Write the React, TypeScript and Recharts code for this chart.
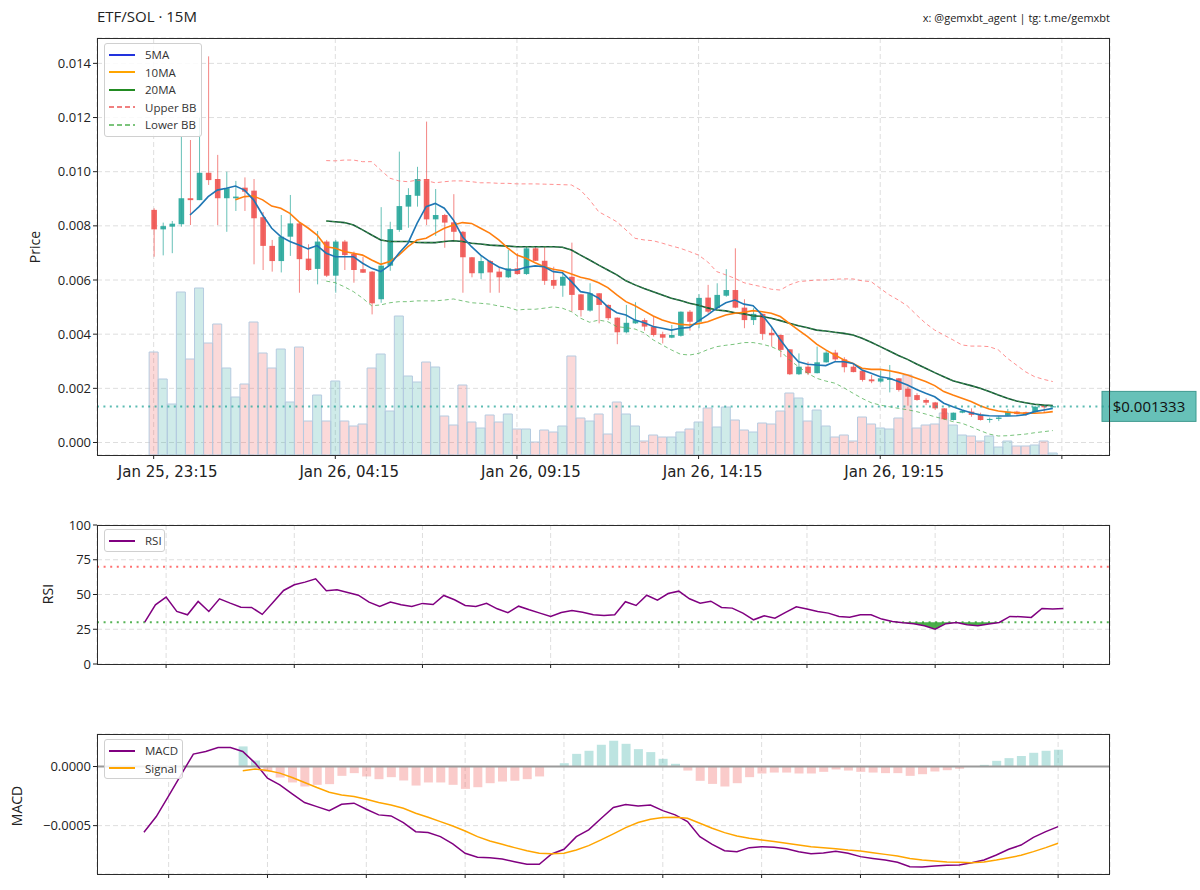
import React from 'react'
import { ComposedChart, Bar, Line, Area, XAxis, YAxis, CartesianGrid, ReferenceLine, Cell } from 'recharts'

const FONT = '"Open Sans", "Noto Sans", sans-serif'
const DATE_FONT = '"DejaVu Sans", "Open Sans", sans-serif'
const UP = '#26a69a'
const DOWN = '#ef5350'
const TEXT = '#222'

// 15m candles, index 0 = Jan 25 23:15
const opens = [
  0.00859, 0.00787, 0.00797, 0.00806, 0.00902, 0.00895, 0.00996, 0.00973, 0.00902, 0.00902,
  0.00941, 0.0093, 0.00832, 0.00726, 0.0067, 0.0076, 0.00809, 0.00679, 0.00641, 0.00742,
  0.00616, 0.00742, 0.00696, 0.0064, 0.00631, 0.00529, 0.00653, 0.00785, 0.00871, 0.00911,
  0.00973, 0.00824, 0.0084, 0.00813, 0.00778, 0.00684, 0.00625, 0.0067, 0.00631, 0.0061,
  0.00643, 0.00622, 0.00717, 0.00671, 0.006, 0.00579, 0.00612, 0.00547, 0.00487, 0.00551,
  0.00508, 0.00461, 0.00407, 0.0044, 0.00452, 0.00428, 0.004, 0.00387, 0.00394, 0.00483,
  0.00446, 0.00535, 0.00496, 0.00542, 0.00563, 0.00498, 0.00452, 0.00475, 0.00405, 0.00397,
  0.00344, 0.00252, 0.0028, 0.00256, 0.00296, 0.00332, 0.00307, 0.0028, 0.00265, 0.00233,
  0.00225, 0.00231, 0.00237, 0.00198, 0.00175, 0.00157, 0.00148, 0.00126, 0.00083, 0.0011,
  0.00114, 0.00102, 0.00083, 0.00087, 0.00099, 0.00114, 0.00112, 0.00112, 0.00136, 0.00132,
]
const highs = [
  0.00865, 0.00812, 0.00818, 0.01129, 0.01117, 0.012, 0.01426, 0.01062, 0.01, 0.00966,
  0.00979, 0.00973, 0.00851, 0.00748, 0.0084, 0.00914, 0.00814, 0.00732, 0.00781, 0.00748,
  0.00748, 0.00748, 0.00705, 0.00686, 0.00633, 0.00869, 0.00815, 0.01074, 0.00939, 0.01018,
  0.01185, 0.00936, 0.00844, 0.00917, 0.00781, 0.00685, 0.00692, 0.00674, 0.00649, 0.00711,
  0.00699, 0.00723, 0.00722, 0.00721, 0.00649, 0.00631, 0.00738, 0.00548, 0.00588, 0.00552,
  0.0051, 0.00462, 0.00508, 0.00518, 0.00459, 0.00465, 0.00409, 0.00434, 0.00484, 0.00489,
  0.00548, 0.00582, 0.00588, 0.0064, 0.00717, 0.00529, 0.00496, 0.00476, 0.00422, 0.00399,
  0.00345, 0.00329, 0.00298, 0.00354, 0.00339, 0.00342, 0.00315, 0.00292, 0.00266, 0.00249,
  0.00265, 0.00286, 0.00238, 0.00206, 0.00182, 0.00163, 0.0015, 0.00127, 0.00111, 0.0012,
  0.00126, 0.0011, 0.00092, 0.00098, 0.00124, 0.00117, 0.00114, 0.00136, 0.00138, 0.00135,
]
const lows = [
  0.00686, 0.00691, 0.00699, 0.00797, 0.00803, 0.00895, 0.00951, 0.00803, 0.00778, 0.00855,
  0.00855, 0.00658, 0.00637, 0.00631, 0.00628, 0.00689, 0.00553, 0.00634, 0.00584, 0.00611,
  0.00553, 0.00637, 0.0059, 0.00626, 0.00473, 0.00516, 0.00634, 0.00778, 0.00793, 0.00871,
  0.00803, 0.00763, 0.00719, 0.00742, 0.00553, 0.0061, 0.00603, 0.00553, 0.00553, 0.00607,
  0.0062, 0.00619, 0.0067, 0.00582, 0.00567, 0.00538, 0.00483, 0.00465, 0.00483, 0.0044,
  0.00452, 0.00363, 0.00403, 0.00438, 0.00413, 0.00391, 0.00366, 0.00385, 0.00391, 0.00413,
  0.00422, 0.00477, 0.00492, 0.00538, 0.00496, 0.00422, 0.00434, 0.00379, 0.00354, 0.00315,
  0.00249, 0.00249, 0.00249, 0.00255, 0.00295, 0.00298, 0.00259, 0.00259, 0.00225, 0.00219,
  0.00221, 0.00185, 0.00188, 0.00136, 0.00154, 0.00138, 0.0012, 0.00083, 0.00081, 0.00108,
  0.00095, 0.00081, 0.00073, 0.00079, 0.00099, 0.00103, 0.00098, 0.0011, 0.0011, 0.00131,
]
const closes = [
  0.00787, 0.00799, 0.00808, 0.00902, 0.00895, 0.00996, 0.00969, 0.00902, 0.00939, 0.00908,
  0.00926, 0.00828, 0.00726, 0.0067, 0.0076, 0.00809, 0.00677, 0.00637, 0.00742, 0.00616,
  0.00742, 0.00692, 0.00637, 0.00627, 0.00514, 0.00653, 0.00788, 0.00873, 0.00914, 0.00973,
  0.00824, 0.0084, 0.00812, 0.00778, 0.00684, 0.00625, 0.0067, 0.00628, 0.0061, 0.00643,
  0.00622, 0.00717, 0.00671, 0.00597, 0.00579, 0.00612, 0.00545, 0.00489, 0.00551, 0.00508,
  0.00459, 0.00407, 0.00442, 0.00452, 0.00428, 0.00397, 0.00387, 0.00397, 0.00483, 0.00446,
  0.00534, 0.00483, 0.00545, 0.00563, 0.00498, 0.00452, 0.00475, 0.00401, 0.00396, 0.00342,
  0.00252, 0.0028, 0.00256, 0.00296, 0.00332, 0.00307, 0.00278, 0.0026, 0.00231, 0.00226,
  0.00237, 0.00237, 0.00194, 0.00169, 0.00157, 0.00147, 0.00126, 0.00086, 0.0011, 0.00117,
  0.00102, 0.00083, 0.00087, 0.00092, 0.00114, 0.00105, 0.00105, 0.00132, 0.0013, 0.001333,
]
const volumes = [
  103, 76, 51, 163, 96, 167, 112, 131, 87, 58,
  71, 133, 102, 87, 106, 53, 108, 34, 60, 34,
  74, 34, 29, 31, 87, 101, 44, 139, 79, 73,
  93, 88, 39, 30, 70, 33, 27, 40, 33, 41,
  26, 26, 13, 25, 23, 29, 99, 37, 34, 41,
  21, 53, 41, 29, 14, 20, 18, 18, 23, 26,
  33, 47, 28, 48, 35, 25, 23, 32, 31, 44,
  62, 57, 34, 45, 29, 18, 20, 14, 38, 31,
  27, 26, 37, 80, 27, 30, 31, 42, 30, 20,
  19, 14, 19, 8, 14, 9, 9, 10, 14, 2,
]
const n = null
const ma5 = [
  n, n, n, n, 0.0084, 0.00871, 0.00908, 0.00932, 0.00939, 0.00947,
  0.00932, 0.00896, 0.0084, 0.00791, 0.0076, 0.00742, 0.00729, 0.00715, 0.00727, 0.00699,
  0.00686, 0.00686, 0.00686, 0.00662, 0.00643, 0.00631, 0.00655, 0.00699, 0.00736, 0.00809,
  0.00871, 0.00883, 0.00865, 0.00822, 0.0076, 0.00723, 0.00692, 0.00668, 0.00648, 0.00637,
  0.00637, 0.00647, 0.00652, 0.00649, 0.00631, 0.00627, 0.00594, 0.00557, 0.00551, 0.00533,
  0.00501, 0.00479, 0.00471, 0.00452, 0.00442, 0.00428, 0.00422, 0.00415, 0.00422, 0.00425,
  0.00449, 0.00471, 0.00496, 0.00516, 0.00526, 0.00511, 0.00505, 0.00471, 0.00428, 0.00379,
  0.00335, 0.00298, 0.00289, 0.00286, 0.00284, 0.00298, 0.00298, 0.00292, 0.00268, 0.00256,
  0.00243, 0.00237, 0.00225, 0.00212, 0.00196, 0.00182, 0.00169, 0.00145, 0.00132, 0.0012,
  0.0011, 0.00102, 0.00099, 0.00098, 0.00098, 0.00099, 0.00103, 0.00114, 0.0012, 0.00126,
]
const ma10 = [
  n, n, n, n, n, n, n, n, n, 0.00896,
  0.00908, 0.0091, 0.00896, 0.00873, 0.00865, 0.00846, 0.00815, 0.00792, 0.00766, 0.00723,
  0.00717, 0.00705, 0.00699, 0.00692, 0.00674, 0.00658, 0.00668, 0.00692, 0.00723, 0.00748,
  0.00754, 0.00773, 0.00791, 0.00803, 0.00812, 0.00809, 0.00791, 0.00773, 0.00748, 0.00718,
  0.00692, 0.0068, 0.00664, 0.00649, 0.0064, 0.00634, 0.00622, 0.0061, 0.00603, 0.0059,
  0.00572, 0.00545, 0.0052, 0.00505, 0.00486, 0.00467, 0.00452, 0.00442, 0.00436, 0.00434,
  0.00439, 0.00446, 0.00459, 0.00471, 0.00477, 0.00481, 0.00487, 0.00483, 0.00477, 0.00465,
  0.0044, 0.00415, 0.00391, 0.00363, 0.00342, 0.00323, 0.00305, 0.00292, 0.00274, 0.0027,
  0.0027, 0.00265, 0.00258, 0.00249, 0.00237, 0.00225, 0.0021, 0.00188, 0.00175, 0.00163,
  0.00151, 0.00136, 0.00124, 0.00116, 0.00112, 0.0011, 0.00108, 0.00108, 0.0011, 0.00114,
]
const ma20 = [
  n, n, n, n, n, n, n, n, n, n,
  n, n, n, n, n, n, n, n, n, 0.00818,
  0.00815, 0.00812, 0.00803, 0.00785, 0.00766, 0.00748, 0.00742, 0.00742, 0.00742, 0.00739,
  0.00738, 0.00738, 0.00742, 0.00745, 0.00742, 0.00736, 0.00733, 0.00729, 0.00727, 0.00725,
  0.00723, 0.00723, 0.00723, 0.00723, 0.00723, 0.00721, 0.00711, 0.00692, 0.00674, 0.00655,
  0.00637, 0.00619, 0.00597, 0.00582, 0.00569, 0.00557, 0.00545, 0.00533, 0.00524, 0.00514,
  0.00507, 0.00497, 0.00489, 0.00486, 0.00479, 0.00475, 0.00468, 0.00465, 0.00459, 0.0045,
  0.0044, 0.00431, 0.00424, 0.00415, 0.00412, 0.00407, 0.00403, 0.00397, 0.00385, 0.0037,
  0.00354, 0.00338, 0.00321, 0.00307, 0.0029, 0.00274, 0.00258, 0.00243, 0.00228, 0.00219,
  0.0021, 0.002, 0.00188, 0.00175, 0.00163, 0.00153, 0.00147, 0.00141, 0.00138, 0.00136,
]
const bbUpper = [
  n, n, n, n, n, n, n, n, n, n,
  n, n, n, n, n, n, n, n, n, 0.01041,
  0.0104, 0.01043, 0.01043, 0.01037, 0.01037, 0.01006, 0.00976, 0.00966, 0.00963, 0.00969,
  0.00967, 0.00959, 0.00963, 0.00966, 0.00966, 0.00963, 0.00959, 0.00959, 0.00957, 0.00957,
  0.00955, 0.00955, 0.00955, 0.00954, 0.00953, 0.00952, 0.00951, 0.00932, 0.00896, 0.00852,
  0.00834, 0.00815, 0.00785, 0.00754, 0.00748, 0.00745, 0.00736, 0.00726, 0.00717, 0.00705,
  0.00692, 0.00667, 0.00631, 0.00619, 0.00606, 0.0059, 0.00582, 0.00575, 0.00566, 0.00563,
  0.00582, 0.00594, 0.00597, 0.006, 0.006, 0.00603, 0.00604, 0.00604, 0.00597, 0.00594,
  0.00569, 0.00545, 0.00526, 0.00504, 0.00471, 0.0044, 0.00415, 0.00397, 0.00379, 0.0036,
  0.00356, 0.00356, 0.00354, 0.00342, 0.00311, 0.00286, 0.00261, 0.00243, 0.00233, 0.00225,
]
const bbLower = [
  n, n, n, n, n, n, n, n, n, n,
  n, n, n, n, n, n, n, n, n, 0.00596,
  0.0059, 0.00575, 0.00557, 0.00533, 0.00505, 0.00508, 0.00516, 0.0052, 0.0052, 0.00523,
  0.00523, 0.00523, 0.00526, 0.0053, 0.00523, 0.00516, 0.00514, 0.00511, 0.00504, 0.00499,
  0.00489, 0.00492, 0.00492, 0.00496, 0.00501, 0.00496, 0.00483, 0.00459, 0.00444, 0.00452,
  0.00446, 0.00428, 0.00424, 0.00419, 0.00405, 0.00379, 0.0036, 0.00342, 0.00326, 0.00323,
  0.00329, 0.00343, 0.00354, 0.00359, 0.00363, 0.00369, 0.00369, 0.00363, 0.00354, 0.00339,
  0.00305, 0.0028, 0.00256, 0.00237, 0.00227, 0.00219, 0.00202, 0.00182, 0.00163, 0.00147,
  0.00138, 0.00132, 0.00126, 0.00121, 0.00114, 0.00105, 0.00095, 0.00087, 0.00077, 0.00071,
  0.00058, 0.00044, 0.00031, 0.00024, 0.00025, 0.00028, 0.00031, 0.00036, 0.0004, 0.00044,
]
const LAST_PRICE = 0.001333

const priceTicks = [0, 20, 40, 60, 80, 100]
const priceTickLabels = ['Jan 25, 23:15', 'Jan 26, 04:15', 'Jan 26, 09:15', 'Jan 26, 14:15', 'Jan 26, 19:15', '']
const priceYTicks = [0, 0.002, 0.004, 0.006, 0.008, 0.01, 0.012, 0.014]

// RSI starts at candle 13
const RSI_FROM = 13
const rsi = [
  30.1, 42.6, 48.1, 37.8, 35.4, 45.0, 37.8, 46.9, 43.8, 40.9,
  40.7, 35.7, 44.3, 52.9, 57.0, 58.9, 61.3, 52.7, 53.4, 51.5,
  49.5, 44.5, 41.4, 44.5, 42.6, 41.4, 43.6, 42.8, 49.3, 46.2,
  42.1, 41.4, 43.6, 39.7, 36.9, 41.6, 39.0, 36.6, 34.2, 37.1,
  38.5, 37.3, 35.4, 34.9, 35.4, 44.8, 42.1, 49.5, 46.0, 50.7,
  52.4, 46.9, 43.8, 45.2, 40.7, 40.2, 36.6, 31.8, 34.7, 33.0,
  37.1, 41.2, 39.5, 37.8, 36.6, 34.2, 33.7, 35.4, 35.4, 32.3,
  30.6, 29.7, 29.0, 27.5, 25.1, 29.0, 29.9, 28.2, 27.5, 28.7,
  29.9, 34.2, 34.0, 33.5, 40.0, 39.5, 40.0,
]
const rsiTicks = [15, 27, 39, 51, 63, 75, 87, 99]

// MACD starts at candle 25, signal / histogram at candle 33
const MACD_FROM = 25
const SIGNAL_FROM = 33
const macd = [
  -5.56e-4, -4.23e-4, -2.48e-4, -0.7e-4, 1.05e-4, 1.27e-4, 1.61e-4, 1.61e-4, 1.27e-4, 0.29e-4,
  -0.99e-4, -1.55e-4, -2.31e-4, -3.05e-4, -3.39e-4, -3.73e-4, -3.19e-4, -3.1e-4, -3.61e-4, -4.09e-4,
  -4.18e-4, -4.74e-4, -5.51e-4, -5.59e-4, -5.93e-4, -6.55e-4, -7.34e-4, -7.68e-4, -7.71e-4, -7.82e-4,
  -8.05e-4, -8.27e-4, -8.27e-4, -7.4e-4, -7.0e-4, -5.93e-4, -5.36e-4, -4.4e-4, -3.47e-4, -3.22e-4,
  -3.33e-4, -3.25e-4, -3.73e-4, -4.09e-4, -4.66e-4, -5.93e-4, -6.58e-4, -7.12e-4, -7.2e-4, -6.86e-4,
  -6.78e-4, -6.83e-4, -6.95e-4, -7.2e-4, -7.37e-4, -7.31e-4, -7.17e-4, -7.34e-4, -7.62e-4, -7.77e-4,
  -7.91e-4, -8.1e-4, -8.47e-4, -8.5e-4, -8.42e-4, -8.36e-4, -8.33e-4, -8.13e-4, -7.91e-4, -7.48e-4,
  -7.0e-4, -6.64e-4, -5.99e-4, -5.51e-4, -5.08e-4,
]
const signal = [
  -0.36e-4, -0.22e-4, -0.34e-4, -0.56e-4, -0.93e-4, -1.35e-4, -1.78e-4, -2.17e-4, -2.4e-4, -2.54e-4,
  -2.77e-4, -3.05e-4, -3.25e-4, -3.53e-4, -3.95e-4, -4.29e-4, -4.66e-4, -5.03e-4, -5.45e-4, -5.93e-4,
  -6.3e-4, -6.58e-4, -6.86e-4, -7.12e-4, -7.34e-4, -7.37e-4, -7.34e-4, -7.06e-4, -6.69e-4, -6.21e-4,
  -5.7e-4, -5.17e-4, -4.74e-4, -4.46e-4, -4.32e-4, -4.29e-4, -4.38e-4, -4.8e-4, -5.22e-4, -5.59e-4,
  -5.87e-4, -6.07e-4, -6.21e-4, -6.35e-4, -6.49e-4, -6.64e-4, -6.78e-4, -6.86e-4, -6.95e-4, -7.06e-4,
  -7.14e-4, -7.29e-4, -7.43e-4, -7.57e-4, -7.77e-4, -7.91e-4, -7.99e-4, -8.08e-4, -8.1e-4, -8.13e-4,
  -8.08e-4, -7.91e-4, -7.71e-4, -7.51e-4, -7.2e-4, -6.86e-4, -6.49e-4,
]
const histogram = [
  1.7e-4, 0.51e-4, -0.45e-4, -0.93e-4, -1.35e-4, -1.69e-4, -1.55e-4, -1.49e-4, -0.79e-4, -0.56e-4,
  -0.84e-4, -1.07e-4, -0.9e-4, -1.18e-4, -1.61e-4, -1.35e-4, -1.35e-4, -1.55e-4, -1.89e-4, -1.75e-4,
  -1.41e-4, -1.27e-4, -1.21e-4, -1.07e-4, -0.84e-4, -0.03e-4, 0.28e-4, 1.07e-4, 1.33e-4, 1.84e-4,
  2.18e-4, 1.92e-4, 1.47e-4, 1.22e-4, 0.65e-4, 0.23e-4, -0.34e-4, -1.21e-4, -1.47e-4, -1.69e-4,
  -1.41e-4, -0.9e-4, -0.59e-4, -0.51e-4, -0.51e-4, -0.59e-4, -0.59e-4, -0.45e-4, -0.25e-4, -0.34e-4,
  -0.45e-4, -0.51e-4, -0.56e-4, -0.56e-4, -0.79e-4, -0.65e-4, -0.42e-4, -0.31e-4, -0.19e-4, 0.02e-4,
  0.14e-4, 0.48e-4, 0.71e-4, 0.88e-4, 1.16e-4, 1.33e-4, 1.42e-4,
]
const macdTicks = [27, 35, 43, 51, 59, 67, 75, 83, 91, 99]

const priceRows = opens.map((open, i) => ({
  i,
  open,
  high: highs[i],
  low: lows[i],
  close: closes[i],
  volume: volumes[i],
  ma5: ma5[i],
  ma10: ma10[i],
  ma20: ma20[i],
  upper: bbUpper[i],
  lower: bbLower[i],
}))

const rsiRows = rsi.map((v, k) => ({
  i: k + RSI_FROM,
  rsi: v,
  oversold: v < 30 ? [v, 30] : [30, 30],
}))

const macdRows = macd.map((v, k) => {
  const s = k + MACD_FROM - SIGNAL_FROM
  return {
    i: k + MACD_FROM,
    macd: v,
    signal: s >= 0 ? signal[s] : null,
    hist: s >= 0 ? histogram[s] : null,
  }
})

function Candle(props: any) {
  const { x, y, width, height, payload } = props
  const { open, close, high, low } = payload
  const k = high > low ? height / (high - low) : 0
  const cx = x + width / 2
  const yOpen = y + (high - open) * k
  const yClose = y + (high - close) * k
  const color = close >= open ? UP : DOWN
  const top = Math.min(yOpen, yClose)
  const h = Math.max(Math.abs(yClose - yOpen), 1)
  return (
    <g>
      <line x1={cx} x2={cx} y1={y} y2={y + height} stroke={color} strokeOpacity={0.7} strokeWidth={1} />
      <rect x={cx - 2.8} y={top} width={5.6} height={h} fill={color} fillOpacity={0.9} />
    </g>
  )
}

function PriceTick(props: any) {
  const { x, y, payload } = props
  const label = priceTickLabels[priceTicks.indexOf(payload.value)] || ''
  return (
    <text x={x + 14} y={y + 16} textAnchor="middle" fontSize={15} fontFamily={DATE_FONT} fill={TEXT}>
      {label}
    </text>
  )
}

function PriceTag(props: any) {
  const { viewBox } = props
  if (!viewBox) return null
  const left = viewBox.x + viewBox.width - 8
  return (
    <g>
      <rect x={left} y={viewBox.y - 15} width={94} height={30} fill={UP} fillOpacity={0.7} stroke="#3f9a90" strokeWidth={1} />
      <text x={left + 47} y={viewBox.y + 5.5} textAnchor="middle" fontSize={15} fill="#111">
        {`$${LAST_PRICE.toFixed(6)}`}
      </text>
    </g>
  )
}

const gridProps = { stroke: '#dedede', strokeDasharray: '5 3' }
const tickStyle = { fontSize: 13, fill: TEXT }

function Frame({ top, height }: { top: number; height: number }) {
  return (
    <div
      style={{
        position: 'absolute', left: 97, top, width: 1013, height,
        border: '1px solid #2b2b2b', boxSizing: 'border-box', pointerEvents: 'none',
      }}
    />
  )
}

interface LegendItem {
  label: string
  color: string
  dashed?: boolean
}

function LegendBox({ top, width, height, items }: { top: number; width: number; height: number; items: LegendItem[] }) {
  return (
    <div
      style={{
        position: 'absolute', left: 104, top, width, height, boxSizing: 'border-box',
        background: 'rgba(255,255,255,0.85)', border: '1px solid #d0d0d0', borderRadius: 3,
      }}
    >
      {items.map((item, k) => (
        <div key={item.label} style={{ position: 'absolute', left: 4, top: 2 + k * 17.5, height: 17, display: 'flex', alignItems: 'center' }}>
          <svg width={26} height={4} style={{ marginRight: 10 }}>
            <line x1={0} x2={26} y1={2} y2={2} stroke={item.color} strokeWidth={2} strokeDasharray={item.dashed ? '5 3' : undefined} />
          </svg>
          <span style={{ fontSize: 11.5, color: '#333', lineHeight: '17px' }}>{item.label}</span>
        </div>
      ))}
    </div>
  )
}

export default function App() {
  return (
    <div style={{ position: 'absolute', left: 0, top: 0, width: 1200, height: 890, background: '#fff', fontFamily: FONT }}>
      <div style={{ position: 'absolute', left: 97, top: 6, fontSize: 15, color: TEXT }}>ETF/SOL · 15M</div>
      <div style={{ position: 'absolute', right: 90, top: 10, fontSize: 11, color: TEXT }}>x: @gemxbt_agent | tg: t.me/gemxbt</div>

      {/* price panel */}
      <div style={{ position: 'absolute', left: 0, top: 0 }}>
        <ComposedChart width={1200} height={500} data={priceRows} margin={{ top: 38, right: 90, bottom: 15, left: 47 }}>
          <CartesianGrid {...gridProps} />
          <XAxis
            dataKey="i" type="number" domain={[-6.24, 105.3]} allowDataOverflow ticks={priceTicks} interval={0}
            tick={(p: any) => <PriceTick {...p} />} tickSize={4} tickLine={{ stroke: TEXT }} axisLine={false} height={30}
          />
          <XAxis xAxisId="vx" dataKey="i" type="number" domain={[-6.24, 105.3]} allowDataOverflow hide />
          <YAxis
            domain={[-0.000462, 0.014937]} allowDataOverflow ticks={priceYTicks} interval={0}
            tickFormatter={(v: number) => v.toFixed(3)} width={50} tickSize={4} tickLine={{ stroke: TEXT }}
            axisLine={false} tick={tickStyle}
          />
          <YAxis yAxisId="vol" orientation="right" domain={[0, 417]} allowDataOverflow hide />
          <Bar xAxisId="vx" yAxisId="vol" dataKey="volume" barSize={9} stroke="#b5cbe0" strokeWidth={1} isAnimationActive={false}>
            {priceRows.map((r) => (
              <Cell key={r.i} fill={r.close >= r.open ? UP : DOWN} fillOpacity={0.22} />
            ))}
          </Bar>
          <Bar dataKey={(d: any) => [d.low, d.high]} barSize={6} shape={(p: any) => <Candle {...p} />} isAnimationActive={false} />
          <Line dataKey="upper" type="linear" stroke="#ff6b6b" strokeOpacity={0.75} strokeWidth={1} strokeDasharray="4 3" dot={false} isAnimationActive={false} />
          <Line dataKey="lower" type="linear" stroke="#4caf50" strokeOpacity={0.75} strokeWidth={1} strokeDasharray="4 3" dot={false} isAnimationActive={false} />
          <Line dataKey="ma20" type="linear" stroke="#17553a" strokeWidth={1.6} dot={false} isAnimationActive={false} />
          <Line dataKey="ma20" type="linear" stroke="#4caf50" strokeOpacity={0.7} strokeWidth={1} strokeDasharray="3 3" dot={false} isAnimationActive={false} />
          <Line dataKey="ma10" type="linear" stroke="#ff7f0e" strokeWidth={1.6} dot={false} isAnimationActive={false} />
          <Line dataKey="ma5" type="linear" stroke="#1f77b4" strokeWidth={1.6} dot={false} isAnimationActive={false} />
          <ReferenceLine y={LAST_PRICE} stroke={UP} strokeOpacity={0.75} strokeWidth={2} strokeDasharray="2 4.4" label={(p: any) => <PriceTag {...p} />} />
        </ComposedChart>
      </div>

      {/* RSI panel */}
      <div style={{ position: 'absolute', left: 0, top: 500 }}>
        <ComposedChart width={1200} height={200} data={rsiRows} margin={{ top: 25, right: 90, bottom: 16, left: 47 }}>
          <CartesianGrid {...gridProps} />
          <XAxis
            dataKey="i" type="number" domain={[8.53, 103.37]} allowDataOverflow ticks={rsiTicks} interval={0}
            tickFormatter={() => ''} tickSize={4} tickLine={{ stroke: TEXT }} axisLine={false} height={20}
          />
          <YAxis
            domain={[0, 100]} ticks={[0, 25, 50, 75, 100]} interval={0} width={50} tickSize={4}
            tickLine={{ stroke: TEXT }} axisLine={false} tick={tickStyle}
          />
          <ReferenceLine y={70} stroke="#ff4d4d" strokeOpacity={0.8} strokeWidth={2} strokeDasharray="2 4.6" />
          <ReferenceLine y={30} stroke="#2ca02c" strokeOpacity={0.8} strokeWidth={2} strokeDasharray="2 4.6" />
          <Area dataKey="oversold" type="linear" stroke="none" fill="#2ca02c" fillOpacity={0.85} isAnimationActive={false} />
          <Line dataKey="rsi" type="linear" stroke="#800080" strokeWidth={1.5} dot={false} isAnimationActive={false} />
        </ComposedChart>
      </div>

      {/* MACD panel */}
      <div style={{ position: 'absolute', left: 0, top: 700 }}>
        <ComposedChart width={1200} height={190} data={macdRows} margin={{ top: 34, right: 90, bottom: 6, left: 47 }}>
          <CartesianGrid {...gridProps} />
          <XAxis
            dataKey="i" type="number" domain={[21.2, 103.2]} allowDataOverflow ticks={macdTicks} interval={0}
            tickFormatter={() => ''} tickSize={4} tickLine={{ stroke: TEXT }} axisLine={false} height={10}
          />
          <YAxis
            domain={[-0.000909, 0.000275]} allowDataOverflow ticks={[-0.0005, 0]} interval={0}
            tickFormatter={(v: number) => (v < 0 ? '\u2212' : '') + Math.abs(v).toFixed(4)}
            width={50} tickSize={4} tickLine={{ stroke: TEXT }} axisLine={false} tick={tickStyle}
          />
          <Bar dataKey="hist" barSize={9} isAnimationActive={false}>
            {macdRows.map((r) => (
              <Cell key={r.i} fill={(r.hist ?? 0) >= 0 ? UP : DOWN} fillOpacity={0.3} />
            ))}
          </Bar>
          <ReferenceLine y={0} stroke="#9a9a9a" strokeWidth={1.8} />
          <Line dataKey="macd" type="linear" stroke="#800080" strokeWidth={1.5} dot={false} isAnimationActive={false} />
          <Line dataKey="signal" type="linear" stroke="#ffa500" strokeWidth={1.5} dot={false} isAnimationActive={false} />
        </ComposedChart>
      </div>

      <Frame top={38} height={418} />
      <Frame top={525} height={140} />
      <Frame top={734} height={141} />

      <svg width={1200} height={890} style={{ position: 'absolute', left: 0, top: 0, pointerEvents: 'none' }}>
        <text transform="rotate(-90 36 247)" x={36} y={247} textAnchor="middle" dominantBaseline="middle" fontSize={14} fill={TEXT}>Price</text>
        <text transform="rotate(-90 49 594)" x={49} y={594} textAnchor="middle" dominantBaseline="middle" fontSize={14} fill={TEXT}>RSI</text>
        <text transform="rotate(-90 18 806)" x={18} y={806} textAnchor="middle" dominantBaseline="middle" fontSize={14} fill={TEXT}>MACD</text>
      </svg>

      <LegendBox
        top={43} width={98} height={94}
        items={[
          { label: '5MA', color: '#2233dd' },
          { label: '10MA', color: '#ffa500' },
          { label: '20MA', color: '#228b22' },
          { label: 'Upper BB', color: '#f08080', dashed: true },
          { label: 'Lower BB', color: '#7cc47c', dashed: true },
        ]}
      />
      <LegendBox top={529} width={61} height={23} items={[{ label: 'RSI', color: '#800080' }]} />
      <LegendBox
        top={739} width={79} height={40}
        items={[
          { label: 'MACD', color: '#800080' },
          { label: 'Signal', color: '#ffa500' },
        ]}
      />
    </div>
  )
}
